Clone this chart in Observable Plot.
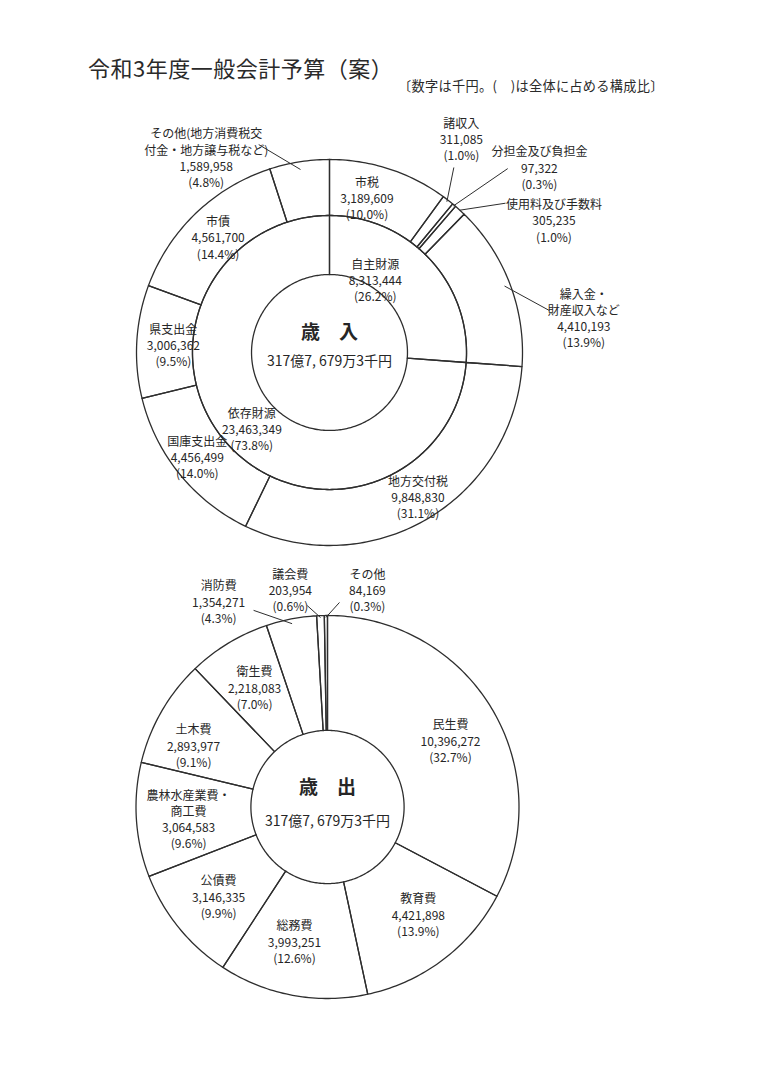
<!DOCTYPE html>
<html>
<head>
<meta charset="utf-8">
<script src="https://cdn.jsdelivr.net/npm/d3@7"></script>
<script src="https://cdn.jsdelivr.net/npm/@observablehq/plot@0.6"></script>
<style>
  html, body { margin: 0; padding: 0; background: #fff; }
  body { width: 760px; height: 1075px; position: relative; overflow: hidden;
         font-family: "Noto Sans CJK JP", "Noto Sans", sans-serif; color: #2a2a2a; }
  #title { position: absolute; left: 88px; top: 56px; font-size: 22px; line-height: 1; letter-spacing: 0.5px; }
  #sub { position: absolute; left: 398px; top: 79px; font-size: 13.2px; line-height: 1; letter-spacing: 0.3px; }
  #pieTop { position: absolute; left: 0; top: 100px; }
  #pieBottom { position: absolute; left: 0; top: 560px; }
</style>
</head>
<body>
<div id="title">令和3年度一般会計予算（案）</div>
<div id="sub">〔数字は千円。(　)は全体に占める構成比〕</div>
<div id="pieTop"></div>
<div id="pieBottom"></div>
<script>
// ---------------- DATA ----------------
// 歳入 (revenue) – inner ring
const revenueGroups = ["自主財源", "依存財源"];
const revenueGroupValues = [8313444, 23463349];
const revenueGroupShares = ["26.2", "73.8"];

// 歳入 (revenue) – outer ring, clockwise from 12 o'clock
const revenueItems = ["市税", "諸収入", "分担金及び負担金", "使用料及び手数料",
  "繰入金・\n財産収入など", "地方交付税", "国庫支出金", "県支出金", "市債",
  "その他(地方消費税交\n付金・地方譲与税など)"];
const revenueValues = [3189609, 311085, 97322, 305235, 4410193, 9848830, 4456499, 3006362, 4561700, 1589958];
const revenueShares = ["10.0", "1.0", "0.3", "1.0", "13.9", "31.1", "14.0", "9.5", "14.4", "4.8"];

// 歳出 (expenditure), clockwise from 12 o'clock
const expenseItems = ["民生費", "教育費", "総務費", "公債費", "農林水産業費・\n商工費",
  "土木費", "衛生費", "消防費", "議会費", "その他"];
const expenseValues = [10396272, 4421898, 3993251, 3146335, 3064583, 2893977, 2218083, 1354271, 203954, 84169];
const expenseShares = ["32.7", "13.9", "12.6", "9.9", "9.6", "9.1", "7.0", "4.3", "0.6", "0.3"];

const centerTitles = ["歳　入", "歳　出"];

// ---------------- LAYOUT (label placement, polar: [angle°, radius as fraction of outer radius]) ----------------
const revenueLabelPos = [[13.6, 0.825], [31.7, 1.30], [48.6, 1.45], [59.5, 1.35], [82.2, 1.33],
  [148.5, 0.877], [231.7, 0.873], [272.9, 0.81], [316, 0.831], [327.7, 1.195]];
const revenueGroupLabelPos = [[32.2, 0.445], [225.4, 0.565]];
// leaders: [item index, start angle, start radius, end radius]  (end angle = slice middle)
const revenueLeaders = [[1, 33.9, 1.155, 0.99], [2, 44.1, 1.327, 0.995], [3, 49.7, 1.196, 1.0],
  [4, 79.2, 1.16, 0.97], [9, 341.2, 1.138, 0.96]];

const expenseLabelPos = [[61.6, 0.73], [139.8, 0.735], [193.8, 0.723], [230.6, 0.736], [265.1, 0.728],
  [294.7, 0.77], [328.6, 0.731], [332.1, 1.215], [350.3, 1.152], [10.4, 1.154]];
const expenseLeaders = [[7, 339.4, 1.097, 0.975], [8, 354.25, 1.057, 0.99], [9, 3.35, 1.07, 0.99]];

// ---------------- HELPERS ----------------
const fmt = d3.format(",");
const FONT = "'Noto Sans CJK JP', 'Noto Sans', sans-serif";
const INK = "#262626";

function polar(angleDeg, r) {
  const a = angleDeg * Math.PI / 180;
  return [r * Math.sin(a), r * Math.cos(a)];
}
function sliceAngles(values) {
  const total = d3.sum(values);
  let cum = 0;
  return values.map(v => { const a0 = 360 * cum / total; cum += v; return [a0, 360 * cum / total]; });
}
function ringRows(values, r0, r1, key) {
  const rows = [];
  sliceAngles(values).forEach(([a0, a1], i) => {
    const steps = Math.max(2, Math.ceil(a1 - a0));
    for (let k = 0; k <= steps; k++) { const [x, y] = polar(a0 + (a1 - a0) * k / steps, r1); rows.push({id: key + i, x, y}); }
    for (let k = steps; k >= 0; k--) { const [x, y] = polar(a0 + (a1 - a0) * k / steps, r0); rows.push({id: key + i, x, y}); }
  });
  return rows;
}
function labelRows(names, values, shares, pos) {
  return names.map((n, i) => {
    const [x, y] = polar(pos[i][0], pos[i][1]);
    return {x, y, text: `${n}\n${fmt(values[i])}\n(${shares[i]}%)`};
  });
}
function leaderRows(values, leaders) {
  const ang = sliceAngles(values);
  return leaders.map(([i, sa, sr, er]) => {
    const mid = (ang[i][0] + ang[i][1]) / 2;
    const [x1, y1] = polar(sa, sr);
    const [x2, y2] = polar(mid, er);
    return {x1, y1, x2, y2};
  });
}
function totalText(values) {
  const t = d3.sum(values);                  // 千円
  const oku = Math.floor(t / 100000);
  const rest = t % 100000;
  const man = Math.floor(rest / 10);
  const sen = rest % 10;
  return `${oku}億${d3.format(",")(man).replace(",", ", ")}万${sen}千円`;
}

function pie({width, height, cx, cy, R, rings, labels, leaders, title, titleDy, amount, amountDy}) {
  const marks = [];
  rings.forEach(rows => marks.push(Plot.line(rows, {x: "x", y: "y", z: "id", curve: "linear-closed",
    stroke: "#2e2e2e", strokeWidth: 1.3})));
  marks.push(Plot.link(leaders, {x1: "x1", y1: "y1", x2: "x2", y2: "y2", stroke: "#2e2e2e", strokeWidth: 1}));
  marks.push(Plot.text(labels, {x: "x", y: "y", text: "text", fontSize: 12, lineHeight: 1.35,
    fill: INK, fontFamily: FONT}));
  marks.push(Plot.text([title], {x: 0, y: titleDy / R, text: d => d, fontSize: 19, fontWeight: "bold",
    fill: INK, fontFamily: FONT}));
  marks.push(Plot.text([amount], {x: 0, y: amountDy / R, text: d => d, fontSize: 14,
    fill: INK, fontFamily: FONT}));
  return Plot.plot({
    width, height, margin: 0,
    x: {type: "linear", domain: [-cx / R, (width - cx) / R], axis: null},
    y: {type: "linear", domain: [-(height - cy) / R, cy / R], axis: null},
    style: {background: "transparent", fontFamily: FONT, overflow: "visible"},
    marks
  });
}

// ---------------- TOP: 歳入 ----------------
const RT = 193;
document.getElementById("pieTop").append(pie({
  width: 760, height: 470, cx: 329, cy: 252, R: RT,
  rings: [ringRows(revenueGroupValues, 0.404, 0.71, "g"), ringRows(revenueValues, 0.71, 1.0, "r")],
  labels: [...labelRows(revenueItems, revenueValues, revenueShares, revenueLabelPos),
           ...labelRows(revenueGroups, revenueGroupValues, revenueGroupShares, revenueGroupLabelPos)],
  leaders: leaderRows(revenueValues, revenueLeaders),
  title: centerTitles[0], titleDy: 20, amount: totalText(revenueValues), amountDy: -9
}));

// ---------------- BOTTOM: 歳出 ----------------
const RB = 191.5;
document.getElementById("pieBottom").append(pie({
  width: 760, height: 480, cx: 327, cy: 246.5, R: RB,
  rings: [ringRows(expenseValues, 0.40, 1.0, "e")],
  labels: labelRows(expenseItems, expenseValues, expenseShares, expenseLabelPos),
  leaders: leaderRows(expenseValues, expenseLeaders),
  title: centerTitles[1], titleDy: 19.5, amount: totalText(expenseValues), amountDy: -15
}));
</script>
</body>
</html>
